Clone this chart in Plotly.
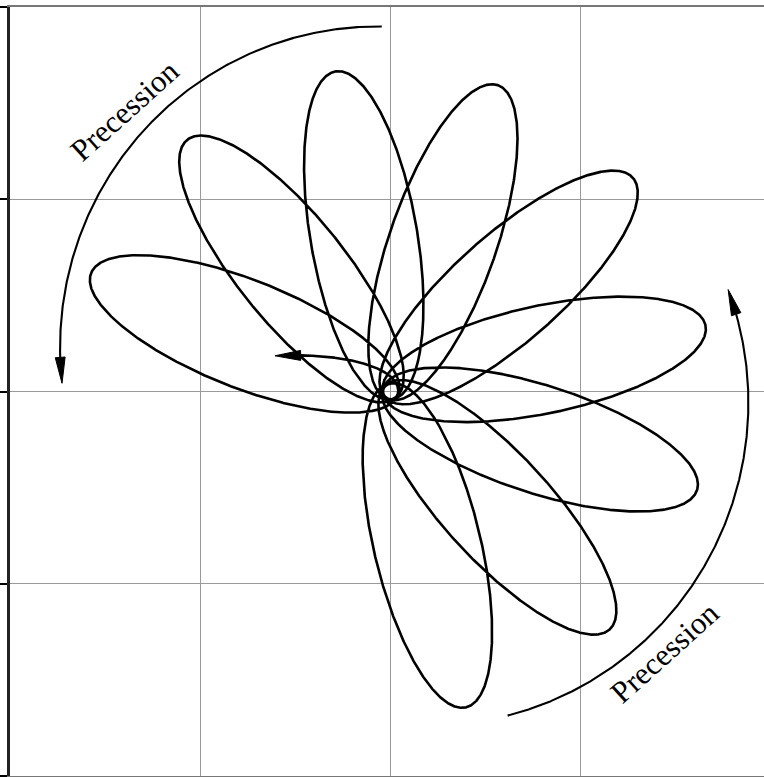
import numpy as np
import plotly.graph_objects as go

# ---- data ----
# polar angle (deg) of the far end (apoapsis) of each complete loop, in time order
APEX_ANGLE_DEG = [-79, -47, -17, 13, 41, 72, 103, 129, 155]
APO_R = 1.69          # distance of far end of each loop from the centre
PERI_R = 0.04         # distance of near end (small ring at the centre)
END_ANGLE_DEG = 163   # polar angle where the final, partial loop ends (arrow)

# precession arrows: centre x, centre y, radius, start angle, tip angle (deg)
ARC_TOP = [-0.067, 0.229, 1.67, 89.3, 186.4]
ARC_BOTTOM = [0.200, -0.058, 1.68, -75.7, 20.5]

LABELS = ["Precession", "Precession"]
LABEL_X = [-1.398, 1.44]
LABEL_Y = [1.463, -1.356]

# ---- orbit ----
n = np.arange(len(APEX_ANGLE_DEG))
prec, apex0 = np.polyfit(n, APEX_ANGLE_DEG, 1)
k = 360.0 / (360.0 + prec)
e = (APO_R - PERI_R) / (APO_R + PERI_R)
p = PERI_R * (1 + e)
phi_p0 = apex0 - 180.0 / k
phi_plast = phi_p0 + len(APEX_ANGLE_DEG) * 360.0 / k
phi_end = phi_plast + ((END_ANGLE_DEG - phi_plast) % 360.0)
phi = np.linspace(phi_p0, phi_end, 60000)
r = p / (1 + e * np.cos(np.radians(k * (phi - phi_p0))))
ox = r * np.cos(np.radians(phi))
oy = r * np.sin(np.radians(phi))

AH_LEN = 0.135
AH_HALF = 0.026


def head(tip, back):
    d = np.array(tip) - np.array(back)
    d = d / np.hypot(*d)
    base = np.array(tip) - d * AH_LEN
    perp = np.array([-d[1], d[0]])
    pts = [tip, base + perp * AH_HALF, base - perp * AH_HALF, tip]
    return [q[0] for q in pts], [q[1] for q in pts]


# walk back along orbit for the arrow
seg = np.hypot(np.diff(ox), np.diff(oy))
cum = np.concatenate([[0], np.cumsum(seg[::-1])])
idx_back = np.searchsorted(cum, AH_LEN)
cut = len(ox) - 1 - idx_back
orbit_head = head((ox[-1], oy[-1]), (ox[cut], oy[cut]))

fig = go.Figure()
fig.add_trace(go.Scatter(x=ox[:cut + 1], y=oy[:cut + 1], mode="lines",
                         line=dict(color="black", width=2.6), hoverinfo="skip"))
fig.add_trace(go.Scatter(x=orbit_head[0], y=orbit_head[1], mode="lines", fill="toself",
                         fillcolor="black", line=dict(color="black", width=1), hoverinfo="skip"))

for cx, cy, rr, a0, a1 in [ARC_TOP, ARC_BOTTOM]:
    abase = a1 - np.degrees(AH_LEN / rr)
    t = np.radians(np.linspace(a0, abase, 400))
    fig.add_trace(go.Scatter(x=cx + rr * np.cos(t), y=cy + rr * np.sin(t), mode="lines",
                             line=dict(color="black", width=2.1), hoverinfo="skip"))
    tip = (cx + rr * np.cos(np.radians(a1)), cy + rr * np.sin(np.radians(a1)))
    back = (cx + rr * np.cos(np.radians(abase)), cy + rr * np.sin(np.radians(abase)))
    hx, hy = head(tip, back)
    fig.add_trace(go.Scatter(x=hx, y=hy, mode="lines", fill="toself", fillcolor="black",
                             line=dict(color="black", width=1), hoverinfo="skip"))

for txt, lx, ly in zip(LABELS, LABEL_X, LABEL_Y):
    fig.add_annotation(x=lx, y=ly, text=txt, showarrow=False, textangle=-42,
                       font=dict(family="Liberation Serif, Times New Roman, serif",
                                 size=31, color="black"))

fig.update_layout(
    width=764, height=777,
    margin=dict(l=10, r=0, t=7, b=1),
    paper_bgcolor="white", plot_bgcolor="white",
    showlegend=False,
)
fig.update_xaxes(range=[-2, 1.962], tickvals=[-2, -1, 0, 1, 2], showticklabels=False,
                 showgrid=True, gridcolor="#9a9a9a", gridwidth=1, zeroline=False,
                 showline=True, linecolor="#777", linewidth=2, mirror=True, ticks="")
fig.update_yaxes(range=[-2, 2], tickvals=[-2, -1, 0, 1, 2], showticklabels=False,
                 showgrid=True, gridcolor="#9a9a9a", gridwidth=1, zeroline=False,
                 showline=True, linecolor="#222", linewidth=2.5, mirror=False,
                 ticks="outside", ticklen=8, tickcolor="black", tickwidth=1.5)

fig.write_html("out.html", config={"displayModeBar": False},
               post_script="document.body.style.margin='0';document.body.style.overflow='hidden';")
